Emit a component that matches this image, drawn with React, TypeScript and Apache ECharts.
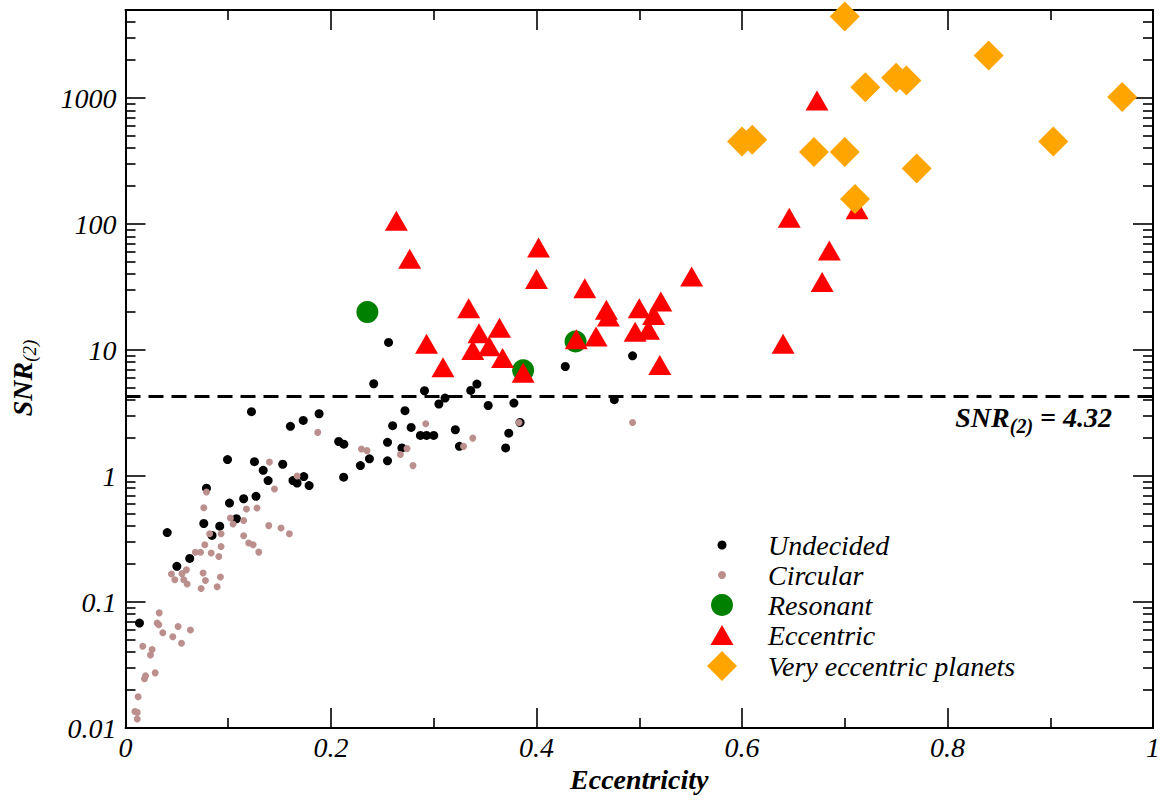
import React, { useEffect, useRef } from "react";
import * as echarts from "echarts";

// ---------- data ----------
const undecidedEcc = [
  0.256, 0.2416, 0.291, 0.311, 0.305, 0.336, 0.342, 0.353, 0.378, 0.428, 0.4935, 0.4757,
  0.1884, 0.272, 0.26, 0.278, 0.287, 0.293, 0.3, 0.321, 0.2075, 0.2125, 0.255, 0.269,
  0.325, 0.373, 0.37, 0.384, 0.2286, 0.2374, 0.255, 0.2123, 0.1226, 0.1605, 0.173, 0.0993,
  0.1255, 0.134, 0.153, 0.1388, 0.163, 0.167, 0.1735, 0.1787, 0.0788, 0.1012, 0.115, 0.127,
  0.108, 0.0762, 0.0917, 0.0406, 0.0842, 0.0625, 0.05, 0.0136,
];
const undecidedSnr = [
  11.5, 5.4, 4.75, 4.16, 3.73, 4.78, 5.37, 3.63, 3.79, 7.4, 9.0, 4.04,
  3.12, 3.3, 2.51, 2.43, 2.1, 2.1, 2.1, 2.33, 1.88, 1.79, 1.85, 1.67,
  1.72, 2.19, 1.67, 2.66, 1.21, 1.37, 1.32, 0.98, 3.24, 2.48, 2.76, 1.35,
  1.3, 1.11, 1.24, 0.92, 0.92, 0.88, 0.99, 0.84, 0.8, 0.61, 0.66, 0.69,
  0.458, 0.42, 0.4, 0.356, 0.338, 0.222, 0.192, 0.068,
];

const circularEcc = [
  0.1871, 0.1401, 0.167, 0.2922, 0.338, 0.329, 0.383, 0.4935, 0.2296, 0.235, 0.2675, 0.274,
  0.2798, 0.0788, 0.145, 0.0762, 0.1177, 0.128, 0.1021, 0.1047, 0.115, 0.1394, 0.1514, 0.1595,
  0.0819, 0.093, 0.115, 0.0772, 0.093, 0.1199, 0.1242, 0.068, 0.073, 0.0834, 0.0908, 0.1297,
  0.0593, 0.0447, 0.048, 0.055, 0.0567, 0.06, 0.0755, 0.0778, 0.0736, 0.0924, 0.0892, 0.0328,
  0.0308, 0.0324, 0.0512, 0.0632, 0.0363, 0.046, 0.0545, 0.0168, 0.0259, 0.0243, 0.0195, 0.0185,
  0.0289, 0.0123, 0.0091, 0.0114, 0.0114,
];
const circularSnr = [
  2.22, 1.29, 1.0, 2.6, 2.0, 1.72, 2.66, 2.66, 1.64, 1.59, 1.48, 1.65,
  1.21, 0.747, 0.79, 0.56, 0.547, 0.557, 0.464, 0.416, 0.444, 0.404, 0.387, 0.348,
  0.348, 0.348, 0.336, 0.285, 0.276, 0.294, 0.285, 0.248, 0.248, 0.245, 0.23, 0.249,
  0.18, 0.167, 0.15, 0.168, 0.15, 0.139, 0.17, 0.148, 0.128, 0.158, 0.132, 0.082,
  0.068, 0.066, 0.064, 0.06, 0.057, 0.053, 0.047, 0.0445, 0.042, 0.038, 0.026, 0.0246,
  0.0274, 0.0177, 0.0135, 0.0133, 0.0118,
];

const resonantEcc = [0.2354, 0.387, 0.438];
const resonantSnr = [20, 6.9, 11.7];

const eccentricEcc = [
  0.2636, 0.2766, 0.402, 0.4, 0.447, 0.551, 0.334, 0.293, 0.309, 0.344, 0.364, 0.338,
  0.354, 0.367, 0.387, 0.4387, 0.458, 0.468, 0.47, 0.5, 0.496, 0.521, 0.514, 0.509,
  0.52, 0.646, 0.685, 0.678, 0.64, 0.712, 0.673,
];
const eccentricSnr = [
  106, 53, 65, 36.6, 31, 38.4, 21.5, 11.2, 7.3, 13.6, 15, 10.0,
  10.7, 8.65, 6.6, 12.2, 12.8, 20.9, 18.5, 21.5, 14, 24.3, 19, 14.5,
  7.6, 112, 61.6, 34.7, 11.2, 131, 955,
];

const veryEcc = [0.7, 0.84, 0.72, 0.75, 0.76, 0.97, 0.6, 0.61, 0.67, 0.7, 0.903, 0.77, 0.71];
const verySnr = [4450, 2180, 1220, 1450, 1380, 1020, 453, 467, 373, 373, 453, 276, 158];

const threshold = 4.32;

const yMajorTicks = [0.01, 0.1, 1, 10, 100, 1000];
const yMinorMultipliers = [2, 3, 4, 5, 6, 7, 8, 9];
const yMin = 0.01;
const yMax = 5000;

const seriesNames = ["Undecided", "Circular", "Resonant", "Eccentric", "Very eccentric planets"];

// ---------- helpers ----------
const zip = (xs: number[], ys: number[]) => xs.map((x, i) => [x, ys[i]]);
const FONT = "'Liberation Serif', 'Times New Roman', serif";
const yMinorTicks: number[] = [];
yMajorTicks.forEach((d) =>
  yMinorMultipliers.forEach((k) => {
    const v = +(k * d).toPrecision(6);
    if (v <= yMax) yMinorTicks.push(v);
  })
);

const frameLine = { show: true, lineStyle: { color: "#000", width: 2 } };
const tickStyle = { color: "#000", width: 1.6 };

export default function App() {
  const ref = useRef<HTMLDivElement>(null);

  useEffect(() => {
    if (!ref.current) return;
    const chart = echarts.init(ref.current, null, { renderer: "svg" });

    const xAxisBase = {
      type: "value",
      min: 0,
      max: 1,
      interval: 0.2,
      axisLine: frameLine,
      axisTick: { show: true, inside: true, length: 20, lineStyle: tickStyle },
      minorTick: { show: true, splitNumber: 2, length: 10, lineStyle: tickStyle },
      splitLine: { show: false },
      minorSplitLine: { show: false },
    };

    const yAxisBase = {
      type: "log",
      logBase: 10,
      min: yMin,
      max: yMax,
      splitLine: { show: false },
      minorSplitLine: { show: false },
    };

    // legend rows: icon size [w, h], vertical centre
    const legendIconCx = 722;
    const legendTextX = 768;
    const legendRows = [
      { name: seriesNames[0], icon: "circle", w: 9, h: 9, cy: 545 },
      { name: seriesNames[1], icon: "circle", w: 8, h: 8, cy: 575 },
      { name: seriesNames[2], icon: "circle", w: 22, h: 22, cy: 605 },
      { name: seriesNames[3], icon: "triangle", w: 23, h: 20, cy: 635 },
      { name: seriesNames[4], icon: "diamond", w: 30, h: 30, cy: 666 },
    ];

    const textBase = { fontFamily: FONT, color: "#000" };
    const legendText = { ...textBase, fontStyle: "italic", fontSize: 28, lineHeight: 30 };

    chart.setOption({
      animation: false,
      backgroundColor: "#fff",
      grid: { left: 125, right: 12, top: 10, bottom: 72, containLabel: false },
      xAxis: [
        {
          ...xAxisBase,
          position: "bottom",
          axisLabel: { ...textBase, fontStyle: "italic", fontSize: 28, margin: 5 },
          name: "Eccentricity",
          nameLocation: "middle",
          nameGap: 37,
          nameTextStyle: { ...textBase, fontStyle: "italic", fontWeight: "bold", fontSize: 28 },
        },
        { ...xAxisBase, position: "top", axisLabel: { show: false } },
      ],
      yAxis: [
        {
          ...yAxisBase,
          position: "left",
          axisLine: frameLine,
          axisTick: { show: true, inside: true, length: 20, lineStyle: tickStyle, customValues: yMajorTicks },
          axisLabel: {
            ...textBase,
            fontStyle: "italic",
            fontSize: 28,
            margin: 9,
            customValues: yMajorTicks,
            formatter: (v: number) => String(+Number(v).toPrecision(6)),
          },
          name: "{b|SNR}{s|(2)}",
          nameLocation: "middle",
          nameGap: 87,
          nameTextStyle: {
            ...textBase,
            padding: [0, 18, 0, 0],
            rich: {
              b: { fontFamily: FONT, fontStyle: "italic", fontWeight: "bold", fontSize: 28, color: "#000" },
              s: { fontFamily: FONT, fontStyle: "italic", fontSize: 19, color: "#000", padding: [14, 0, 0, 0] },
            },
          },
        },
        {
          ...yAxisBase,
          position: "left",
          axisLine: { show: false },
          axisTick: { show: true, inside: true, length: 10, lineStyle: tickStyle, customValues: yMinorTicks },
          axisLabel: { show: false },
        },
        {
          ...yAxisBase,
          position: "right",
          axisLine: frameLine,
          axisTick: { show: true, inside: true, length: 20, lineStyle: tickStyle, customValues: yMajorTicks },
          axisLabel: { show: false },
        },
        {
          ...yAxisBase,
          position: "right",
          axisLine: { show: false },
          axisTick: { show: true, inside: true, length: 10, lineStyle: tickStyle, customValues: yMinorTicks },
          axisLabel: { show: false },
        },
      ],
      legend: legendRows.map((r) => ({
        data: [{ name: r.name, icon: r.icon }],
        left: legendIconCx - r.w / 2,
        top: r.cy - 15,
        padding: 0,
        itemGap: 0,
        itemWidth: r.w,
        itemHeight: r.h,
        symbolKeepAspect: false,
        selectedMode: false,
        formatter: (name: string) => `{sp|}{t|${name}}`,
        textStyle: {
          ...legendText,
          rich: {
            sp: { width: Math.max(0, legendTextX - (legendIconCx + r.w / 2 + 5)), height: 30 },
            t: legendText,
          },
        },
      })),
      series: [
        {
          name: seriesNames[0],
          type: "scatter",
          data: zip(undecidedEcc, undecidedSnr),
          symbol: "circle",
          symbolSize: 9,
          itemStyle: { color: "#000000", opacity: 1 },
          clip: false,
          markLine: {
            silent: true,
            symbol: ["none", "none"],
            lineStyle: { color: "#000", width: 3, type: [15, 8], opacity: 1 },
            label: {
              show: true,
              position: "insideEndBottom",
              distance: [41, 3],
              formatter: `{b|SNR}{s|(2)}{b| = ${threshold}}`,
              rich: {
                b: { fontFamily: FONT, fontStyle: "italic", fontWeight: "bold", fontSize: 28, color: "#000" },
                s: { fontFamily: FONT, fontStyle: "italic", fontWeight: "bold", fontSize: 20, color: "#000", padding: [17, 0, 0, 0] },
              },
            },
            data: [{ yAxis: threshold }],
          },
        },
        {
          name: seriesNames[1],
          type: "scatter",
          data: zip(circularEcc, circularSnr),
          symbol: "circle",
          symbolSize: 7,
          itemStyle: { color: "#bc8f8f", opacity: 1 },
          clip: false,
        },
        {
          name: seriesNames[2],
          type: "scatter",
          data: zip(resonantEcc, resonantSnr),
          symbol: "circle",
          symbolSize: 22,
          itemStyle: { color: "#008000", opacity: 1 },
          clip: false,
        },
        {
          name: seriesNames[3],
          type: "scatter",
          data: zip(eccentricEcc, eccentricSnr),
          symbol: "triangle",
          symbolSize: [23, 20],
          itemStyle: { color: "#ff0000", opacity: 1 },
          clip: false,
        },
        {
          name: seriesNames[4],
          type: "scatter",
          data: zip(veryEcc, verySnr),
          symbol: "diamond",
          symbolSize: 30,
          itemStyle: { color: "#ffa500", opacity: 1 },
          clip: false,
        },
      ],
    });

    return () => chart.dispose();
  }, []);

  return (
    <div
      ref={ref}
      style={{ position: "fixed", left: 0, top: 0, width: 1165, height: 800, background: "#fff" }}
    />
  );
}
